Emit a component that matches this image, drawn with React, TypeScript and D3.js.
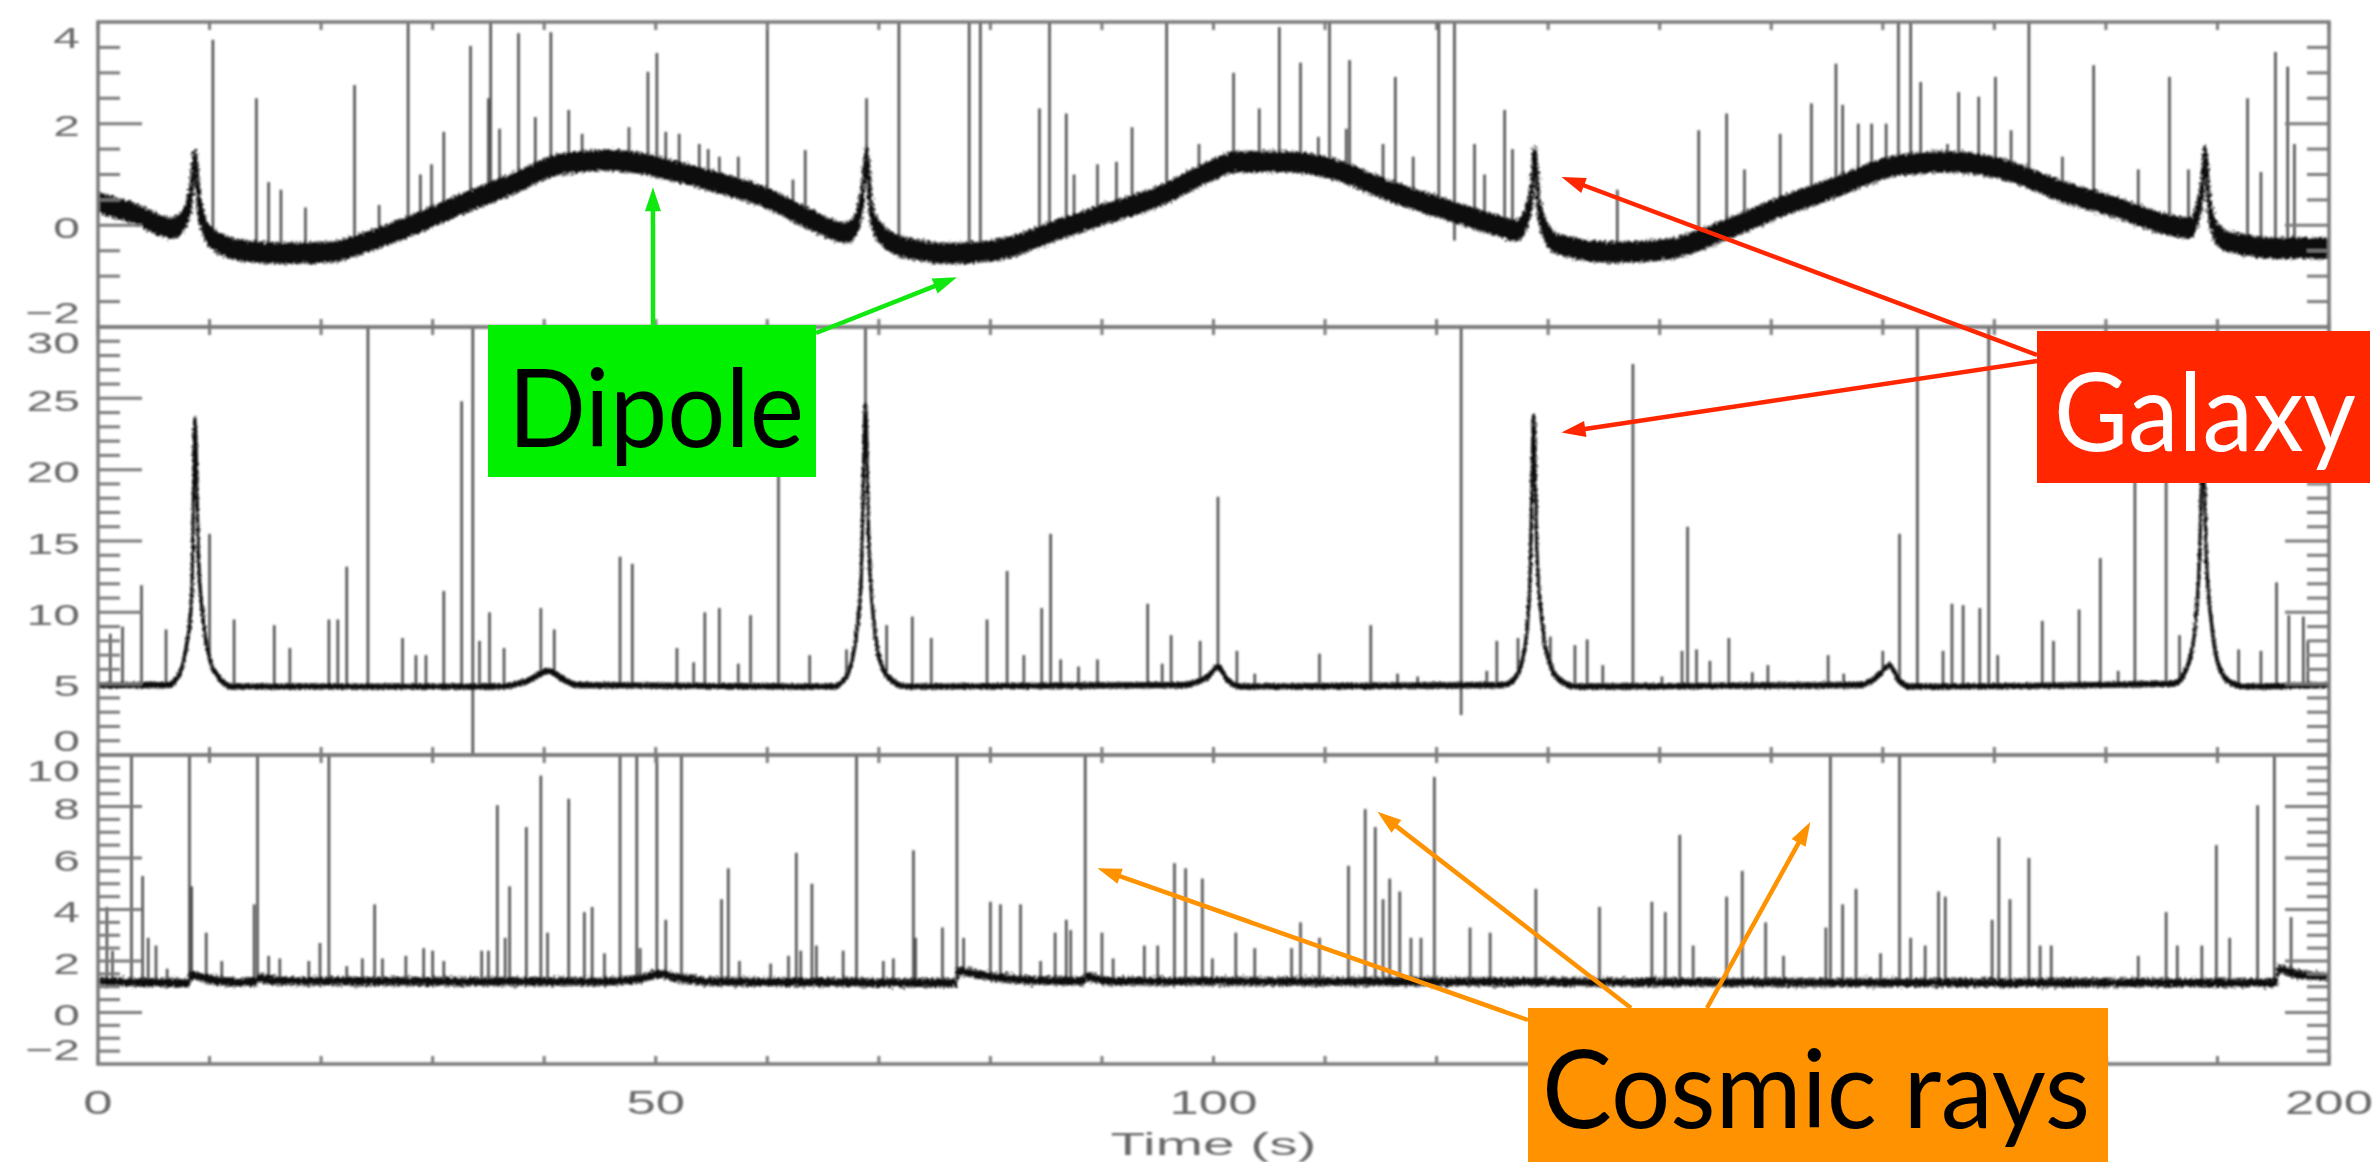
import React from 'react';
import * as d3 from 'd3';

const WIDTH = 2377;
const HEIGHT = 1162;

// ---- time axis ----
const timeDomain: [number, number] = [0, 200];
const timeTicks = d3.range(0, 201, 10);
const timeLabels = [0, 50, 100, 200];

// ---- channel 1: dipole-dominated detector (baseline key points and glitches) ----
const ch1Domain: [number, number] = [-2, 4];
const ch1Labels = [-2, 0, 2, 4];
const ch1Baseline: [number, number][] = [
  [0, 0.45], [3, 0.25], [6.7, -0.05], [7.7, 0.12], [8.3, 0.55], [8.7, 1.3], [9.1, 0.35], [9.8, -0.15],
  [10.6, -0.32], [13, -0.5], [17, -0.55], [21, -0.52], [23.2, -0.39], [27.8, -0.03], [32.4, 0.4],
  [36.9, 0.79], [41.5, 1.2], [46.1, 1.28], [50.7, 1.12], [55.2, 0.86], [59.8, 0.55], [64, 0.1],
  [67.1, -0.15], [68.0, 0.05], [68.5, 0.55], [68.9, 1.35], [69.3, 0.3], [70.1, -0.15], [72.2, -0.43],
  [76.7, -0.55], [81.3, -0.45], [85.9, -0.1], [90.5, 0.24], [95, 0.56], [99.6, 1.05], [102, 1.25],
  [106.5, 1.25], [111, 1.09], [115.6, 0.69], [120.2, 0.36], [124.8, 0.04], [127.3, -0.1],
  [128.1, 0.2], [128.5, 0.6], [128.8, 1.35], [129.2, 0.3], [130.0, -0.2], [130.7, -0.35],
  [135.7, -0.53], [140.7, -0.47], [145.8, -0.1], [150.8, 0.36], [155.8, 0.75], [160.7, 1.15],
  [165.8, 1.25], [170.8, 1.1], [175.8, 0.69], [180.8, 0.36], [185.8, 0.0], [187.5, -0.05],
  [188.3, 0.3], [188.6, 0.65], [188.9, 1.35], [189.3, 0.3], [190.1, -0.2], [190.9, -0.32],
  [195.9, -0.45], [200, -0.45],
];
const ch1Spikes: [number, number][] = [
  [10.3, 3.65], [14.2, 2.5], [15.3, 0.85], [16.4, 0.7], [18.6, 0.35], [23.0, 2.76], [25.2, 0.4],
  [27.8, 4.6], [28.9, 1.0], [29.9, 1.2], [31.0, 1.84], [33.4, 3.53], [35.0, 2.5], [35.2, 4.6],
  [36.0, 1.9], [37.7, 3.78], [39.2, 2.13], [40.6, 3.8], [42.2, 2.27], [43.4, 1.8], [47.6, 1.93],
  [49.3, 3.02], [50.1, 3.39], [50.9, 1.84], [52.1, 1.8], [53.9, 1.6], [54.7, 1.5], [55.7, 1.35],
  [57.4, 1.35], [60.0, 4.6], [62.3, 0.9], [63.4, 1.48], [68.9, 2.5], [71.8, 4.6], [78.1, 4.6],
  [79.1, 4.6], [84.4, 2.3], [85.3, 4.6], [86.8, 2.2], [87.5, 1.0], [89.6, 1.2], [91.3, 1.25],
  [92.7, 1.93], [95.8, 4.6], [98.7, 1.6], [101.8, 3.0], [104.1, 2.3], [105.9, 3.9], [107.8, 3.2],
  [109.4, 1.74], [110.4, 4.6], [111.9, 1.9], [112.2, 3.25], [115.2, 1.6], [116.3, 2.92],
  [117.9, 1.35], [120.2, 4.6], [121.6, 4.6], [123.4, 1.6], [124.3, 1.0], [126.1, 2.27],
  [126.8, 1.5], [136.2, 0.7], [143.5, 1.87], [146.0, 2.2], [147.6, 1.1], [150.8, 1.8],
  [153.6, 2.4], [155.8, 3.18], [156.4, 2.37], [157.8, 2.0], [159.0, 2.0], [160.3, 2.0],
  [161.4, 4.6], [162.5, 4.6], [163.4, 2.82], [165.8, 1.6], [166.8, 2.62], [168.6, 2.53],
  [170.1, 2.92], [171.5, 1.87], [173.1, 4.6], [176.1, 1.35], [178.9, 3.15], [182.9, 1.1],
  [185.7, 2.92], [187.4, 1.1], [192.7, 2.5], [193.9, 1.05], [195.2, 3.41], [196.3, 3.12],
  [196.9, 1.6],
];
const ch1Dips: [number, number][] = [[121.6, -0.3]];

// ---- channel 2: galaxy-dominated detector ----
const ch2Domain: [number, number] = [0, 30];
const ch2Labels = [0, 5, 10, 15, 20, 25, 30];
const ch2Baseline: [number, number][] = [
  [0, 4.9], [6.2, 4.9], [7.2, 5.5], [7.9, 7.5], [8.4, 11], [8.7, 23.5], [9.0, 14], [9.5, 9],
  [10.1, 6.5], [11.1, 5.2], [12, 4.8], [36, 4.8], [38.5, 5.2], [40.4, 5.9], [41.5, 5.4], [43, 4.9],
  [66.0, 4.8], [67.1, 5.5], [67.9, 8], [68.4, 12], [68.8, 24.5], [69.1, 15], [69.6, 9], [70.3, 6.2],
  [71.4, 5.1], [72.5, 4.8], [97, 4.9], [99.5, 5.5], [100.4, 6.2], [101.2, 5.3], [102.5, 4.8],
  [126.0, 4.9], [127.2, 5.6], [128.0, 8], [128.4, 13], [128.7, 23.7], [129.0, 14], [129.5, 9],
  [130.1, 6.5], [131.1, 5.2], [132.5, 4.8], [158, 4.9], [159.5, 5.5], [160.6, 6.3], [161.4, 5.3],
  [162.5, 4.8], [186.1, 5.0], [187.2, 6], [188.0, 9], [188.4, 14], [188.7, 22], [189.0, 14],
  [189.5, 9], [190.1, 6.3], [191.1, 5.1], [192.5, 4.8], [200, 4.9],
];
const ch2Spikes: [number, number][] = [
  [1.1, 8.5], [2.2, 9.0], [3.9, 11.9], [6.1, 8.8], [10.0, 15.5], [12.2, 9.5], [15.8, 9.1],
  [17.2, 7.5], [20.7, 9.5], [21.5, 9.5], [22.3, 13.2], [24.2, 35], [27.3, 8.2], [28.5, 7.0],
  [29.4, 7.0], [31.0, 11.5], [32.6, 24.8], [33.6, 35], [34.2, 8.0], [35.1, 10.0], [36.4, 7.5],
  [39.7, 10.3], [40.9, 8.8], [46.8, 13.9], [47.9, 13.4], [51.9, 7.5], [53.4, 6.5], [54.4, 10.0],
  [55.7, 10.3], [57.4, 6.4], [58.5, 9.8], [61.0, 26], [63.8, 7.0], [67.1, 7.4], [68.8, 35],
  [70.7, 9.1], [73.0, 9.7], [74.7, 8.2], [79.7, 9.5], [81.5, 12.9], [83.0, 7.0], [84.6, 10.3],
  [85.4, 15.5], [86.3, 6.7], [87.9, 6.2], [89.6, 6.7], [94.1, 10.6], [95.4, 6.4], [96.2, 8.4],
  [98.8, 8.0], [100.4, 18.1], [102.1, 7.3], [103.7, 5.7], [109.5, 7.1], [114.1, 9.1],
  [116.5, 5.7], [118.3, 5.5], [122.2, 35], [124.5, 5.9], [125.4, 8.0], [127.3, 8.2],
  [130.2, 8.3], [132.4, 7.7], [133.5, 8.1], [134.9, 6.3], [137.6, 27.4], [140.2, 5.5],
  [142.0, 7.3], [142.5, 16], [143.3, 7.4], [144.5, 6.6], [146.2, 8.2], [148.3, 5.8], [149.7, 6.3],
  [155.1, 7.0], [156.5, 5.7], [160.0, 7.3], [161.5, 15.5], [163.1, 35], [165.4, 7.3],
  [166.2, 10.6], [167.2, 10.5], [168.7, 10.3], [169.5, 35], [170.3, 7.0], [174.3, 9.4],
  [175.3, 8.0], [177.6, 10.2], [179.5, 13.8], [181.1, 5.9], [182.6, 27], [185.4, 27],
  [186.6, 8.4], [191.9, 7.4], [193.9, 7.3], [195.3, 12.1], [196.4, 9.8], [197.7, 9.7], [198.1, 8.0],
];
const ch2Dips: [number, number][] = [[33.6, -2], [122.2, 2.8]];

// ---- channel 3: cosmic-ray-dominated detector ----
const ch3Domain: [number, number] = [-2, 10];
const ch3Labels = [-2, 0, 2, 4, 6, 8, 10];
const ch3Baseline: [number, number][] = [
  [0, 1.2], [8.1, 1.15], [8.3, 1.45], [10, 1.3], [12, 1.18], [14.2, 1.2], [14.4, 1.35], [16, 1.22],
  [45, 1.2], [48.5, 1.3], [50.2, 1.5], [52, 1.35], [55, 1.2], [76.9, 1.15], [77.1, 1.6], [80, 1.4],
  [83.6, 1.25], [88.4, 1.22], [88.6, 1.4], [90.5, 1.22], [195.2, 1.15], [195.5, 1.7], [197, 1.5],
  [200, 1.4],
];
const ch3Spikes: [number, number][] = [
  [0.8, 4.1], [1.3, 2.4], [3.0, 12], [4.0, 5.3], [4.5, 2.9], [5.2, 2.6], [6.2, 1.7], [8.2, 12],
  [8.4, 4.9], [9.7, 3.1], [11.1, 2.0], [14.0, 4.2], [14.3, 12], [15.3, 2.2], [16.3, 2.1],
  [18.9, 2.0], [19.9, 2.7], [20.7, 12], [22.3, 1.8], [23.7, 2.1], [24.8, 4.2], [25.5, 2.1],
  [27.6, 2.2], [29.2, 2.5], [30.0, 2.4], [31.0, 2.0], [34.4, 2.4], [35.0, 2.4], [35.8, 8.05],
  [36.5, 2.9], [36.9, 4.9], [38.4, 7.2], [39.7, 9.2], [40.3, 3.1], [42.2, 8.3], [43.6, 3.9],
  [44.3, 4.1], [45.4, 2.3], [46.8, 12], [48.3, 12], [48.6, 2.5], [50.1, 12], [50.9, 3.6],
  [52.3, 12], [55.9, 4.4], [56.5, 5.6], [57.5, 2.0], [60.3, 1.9], [61.9, 2.2], [62.6, 6.2],
  [63.0, 2.4], [64.0, 5.0], [64.4, 2.6], [66.8, 2.4], [68.0, 12], [70.4, 2.0], [71.3, 2.1],
  [73.1, 6.3], [73.3, 2.9], [75.7, 3.3], [77.0, 12], [77.6, 2.9], [80.0, 4.3], [80.9, 4.2],
  [82.7, 4.2], [84.5, 2.0], [85.8, 3.1], [86.8, 3.6], [87.2, 3.2], [88.5, 12], [90.0, 3.1],
  [91.0, 2.1], [93.8, 2.6], [95.0, 2.6], [96.5, 5.8], [97.5, 5.6], [99.0, 5.2], [99.9, 2.1],
  [102.0, 3.1], [103.7, 2.5], [107.0, 2.5], [107.8, 3.5], [109.5, 2.9], [112.1, 5.7],
  [113.6, 7.9], [114.5, 7.2], [115.2, 4.4], [115.8, 5.2], [116.7, 4.7], [117.7, 2.9],
  [118.6, 2.9], [119.8, 9.15], [123.0, 3.3], [124.8, 3.1], [128.9, 4.8], [134.6, 4.1],
  [139.3, 4.3], [140.5, 3.9], [141.8, 6.9], [143.0, 2.6], [146.0, 4.5], [147.4, 5.5],
  [149.5, 3.5], [151.1, 2.2], [154.9, 3.3], [155.3, 12], [156.4, 4.2], [157.6, 4.8],
  [159.8, 2.3], [161.5, 12], [162.5, 2.9], [163.8, 2.6], [165.0, 4.7], [165.6, 4.5],
  [169.8, 3.6], [170.4, 6.8], [171.4, 4.4], [173.1, 6.0], [174.1, 2.6], [175.1, 2.6],
  [182.9, 2.2], [185.4, 3.9], [186.4, 2.6], [188.6, 2.6], [189.9, 6.5], [191.1, 2.9],
  [193.6, 8.05], [195.1, 12], [196.6, 3.7],
];
const ch3Dips: [number, number][] = [];

// ---- callouts (box layout in page pixels, arrow tips in data coordinates) ----
type Arrow = { from: [number, number]; panel: number; t: number; v: number };
type Callout = {
  text: string; fill: string; ink: string; stroke: string;
  box: [number, number, number, number]; textX: number; baseline: number; textW: number;
  arrows: Arrow[];
};
const callouts: Callout[] = [
  {
    text: 'Dipole', fill: '#00F000', ink: '#000', stroke: '#10E810',
    box: [488, 325, 328, 152], textX: 508, baseline: 447, textW: 296,
    arrows: [
      { from: [653, 325], panel: 0, t: 49.75, v: 0.75 },
      { from: [816, 333], panel: 0, t: 77.0, v: -1.02 },
    ],
  },
  {
    text: 'Galaxy', fill: '#FF2600', ink: '#fff', stroke: '#FF2600',
    box: [2037, 331, 333, 152], textX: 2054, baseline: 451, textW: 302,
    arrows: [
      { from: [2037, 355], panel: 0, t: 131.2, v: 0.95 },
      { from: [2037, 361], panel: 1, t: 131.2, v: 22.6 },
    ],
  },
  {
    text: 'Cosmic rays', fill: '#FF9200', ink: '#000', stroke: '#FF9200',
    box: [1528, 1008, 580, 154], textX: 1542, baseline: 1128, textW: 548,
    arrows: [
      { from: [1528, 1020], panel: 2, t: 89.6, v: 5.6 },
      { from: [1631, 1008], panel: 2, t: 114.7, v: 7.8 },
      { from: [1707, 1008], panel: 2, t: 153.5, v: 7.4 },
    ],
  },
];

const LABEL_FONT = '"Liberation Sans", Arial, Helvetica, sans-serif';
const NOTE_FONT = 'Lato, "Open Sans", sans-serif';

function arrowShape(x1: number, y1: number, x2: number, y2: number, head = 24, half = 8) {
  const dx = x2 - x1;
  const dy = y2 - y1;
  const len = Math.hypot(dx, dy);
  const ux = dx / len;
  const uy = dy / len;
  const bx = x2 - ux * head;
  const by = y2 - uy * head;
  const px = -uy * half;
  const py = ux * half;
  return {
    shaft: [x1, y1, bx + ux * 2, by + uy * 2],
    head: `${x2},${y2} ${bx + px},${by + py} ${bx - px},${by - py}`,
  };
}

export default function App() {
  const x = d3.scaleLinear().domain(timeDomain).range([98, 2329]);
  const left = x(timeDomain[0]);
  const right = x(timeDomain[1]);

  // half: vertical half-thickness of the noise band in pixels
  const panels = [
    { id: 'ch1', domain: ch1Domain, top: 22, bottom: 327, baseline: ch1Baseline, spikes: ch1Spikes, dips: ch1Dips, minor: 0.5, major: 2, labels: ch1Labels, half: 9, edge: 3, rough: 'rough' },
    { id: 'ch2', domain: ch2Domain, top: 327, bottom: 755, baseline: ch2Baseline, spikes: ch2Spikes, dips: ch2Dips, minor: 1, major: 5, labels: ch2Labels, half: 1.5, edge: 3.2, rough: 'roughFine' },
    { id: 'ch3', domain: ch3Domain, top: 755, bottom: 1064, baseline: ch3Baseline, spikes: ch3Spikes, dips: ch3Dips, minor: 0.5, major: 2, labels: ch3Labels, half: 3.2, edge: 2, rough: 'rough' },
  ].map((p) => ({ ...p, y: d3.scaleLinear().domain(p.domain).range([p.bottom, p.top]) }));

  return (
    <svg
      width={WIDTH}
      height={HEIGHT}
      viewBox={`0 0 ${WIDTH} ${HEIGHT}`}
      style={{ position: 'absolute', left: 0, top: 0, background: '#fff' }}
    >
      <defs>
        {panels.map((p) => (
          <clipPath id={`clip-${p.id}`} key={p.id}>
            <rect x={left} y={p.top} width={right - left} height={p.bottom - p.top} />
          </clipPath>
        ))}
        <filter id="soft" x="-2%" y="-2%" width="104%" height="104%">
          <feGaussianBlur stdDeviation="1.1" />
        </filter>
        <filter id="rough" x="-2%" y="-20%" width="104%" height="140%">
          <feTurbulence type="fractalNoise" baseFrequency="0.9 0.35" numOctaves={2} seed={7} result="grain" />
          <feDisplacementMap in="SourceGraphic" in2="grain" scale={9} xChannelSelector="R" yChannelSelector="G" />
        </filter>
        <filter id="roughFine" x="-2%" y="-20%" width="104%" height="140%">
          <feTurbulence type="fractalNoise" baseFrequency="0.9 0.35" numOctaves={2} seed={3} result="grain" />
          <feDisplacementMap in="SourceGraphic" in2="grain" scale={4} xChannelSelector="R" yChannelSelector="G" />
        </filter>
      </defs>
      <rect x={0} y={0} width={WIDTH} height={HEIGHT} fill="#fff" />

      <g filter="url(#soft)">
        {panels.map((p) => {
          const y = p.y;
          const baseAt = d3
            .scaleLinear()
            .domain(p.baseline.map((d) => d[0]))
            .range(p.baseline.map((d) => d[1]))
            .clamp(true);
          const band = d3
            .area<[number, number]>()
            .x((d) => x(d[0]))
            .y0((d) => y(d[1]) + p.half)
            .y1((d) => y(d[1]) - p.half)
            .curve(d3.curveMonotoneX);
          const ticks = d3.range(p.domain[0], p.domain[1] + 1e-9, p.minor).filter(
            (v) => v > p.domain[0] + 1e-9 && v < p.domain[1] - 1e-9,
          );
          const isMajor = (v: number) => Math.abs(v / p.major - Math.round(v / p.major)) < 1e-6;
          return (
            <g key={p.id}>
              <g clipPath={`url(#clip-${p.id})`}>
                {p.spikes.map(([t, v], i) => (
                  <line
                    key={`s${i}`}
                    x1={x(t)}
                    x2={x(t)}
                    y1={y(baseAt(t))}
                    y2={y(v)}
                    stroke="#505050"
                    strokeWidth={2.6}
                  />
                ))}
                {p.dips.map(([t, v], i) => (
                  <line
                    key={`d${i}`}
                    x1={x(t)}
                    x2={x(t)}
                    y1={y(baseAt(t))}
                    y2={y(v)}
                    stroke="#505050"
                    strokeWidth={2.6}
                  />
                ))}
                <path
                  d={band(p.baseline) ?? ''}
                  fill="#0a0a0a"
                  stroke="#0a0a0a"
                  strokeWidth={p.edge}
                  strokeLinejoin="round"
                  filter={`url(#${p.rough})`}
                />
              </g>
              {/* time ticks on the upper and lower frame of each panel */}
              {timeTicks.map((t) => (
                <g key={`xt${t}`} stroke="#7a7a7a" strokeWidth={3}>
                  <line x1={x(t)} x2={x(t)} y1={p.top} y2={p.top + 8} />
                  <line x1={x(t)} x2={x(t)} y1={p.bottom} y2={p.bottom - 8} />
                </g>
              ))}
              {/* value ticks, mirrored on both sides */}
              {ticks.map((v) => {
                const len = isMajor(v) ? 44 : 22;
                return (
                  <g key={`yt${v}`} stroke="#7a7a7a" strokeWidth={3}>
                    <line x1={left} x2={left + len} y1={y(v)} y2={y(v)} />
                    <line x1={right} x2={right - len} y1={y(v)} y2={y(v)} />
                  </g>
                );
              })}
              <rect
                x={left}
                y={p.top}
                width={right - left}
                height={p.bottom - p.top}
                fill="none"
                stroke="#7a7a7a"
                strokeWidth={3.5}
              />
              {p.labels.map((v, i) => {
                const shift = i === p.labels.length - 1 ? 15 : i === 0 ? -15 : 2;
                return (
                  <text
                    key={`yl${v}`}
                    transform={`translate(80, ${y(v) + shift}) scale(1.6, 1)`}
                    textAnchor="end"
                    dy="0.36em"
                    fontFamily={LABEL_FONT}
                    fontSize={30}
                    fill="#6a6a6a"
                  >
                    {v < 0 ? `\u2212${Math.abs(v)}` : v}
                  </text>
                );
              })}
            </g>
          );
        })}
        {timeLabels.map((t) => (
          <text
            key={`xl${t}`}
            transform={`translate(${x(t)}, 1114) scale(1.55, 1)`}
            textAnchor="middle"
            fontFamily={LABEL_FONT}
            fontSize={34}
            fill="#6a6a6a"
          >
            {t}
          </text>
        ))}
        <text
          x={x(100) - 103}
          y={1155}
          textLength={206}
          lengthAdjust="spacingAndGlyphs"
          fontFamily={LABEL_FONT}
          fontSize={31}
          fill="#6a6a6a"
        >
          Time (s)
        </text>
      </g>

      {/* annotation callouts */}
      {callouts.map((c) => (
        <g key={c.text}>
          {c.arrows.map((a, i) => {
            const p = panels[a.panel];
            const s = arrowShape(a.from[0], a.from[1], x(a.t), p.y(a.v));
            return (
              <g key={i}>
                <line
                  x1={s.shaft[0]}
                  y1={s.shaft[1]}
                  x2={s.shaft[2]}
                  y2={s.shaft[3]}
                  stroke={c.stroke}
                  strokeWidth={4.5}
                />
                <polygon points={s.head} fill={c.stroke} />
              </g>
            );
          })}
          <rect x={c.box[0]} y={c.box[1]} width={c.box[2]} height={c.box[3]} fill={c.fill} />
          <text
            x={c.textX}
            y={c.baseline}
            textLength={c.textW}
            lengthAdjust="spacingAndGlyphs"
            fontFamily={NOTE_FONT}
            fontSize={108}
            fill={c.ink}
          >
            {c.text}
          </text>
        </g>
      ))}
    </svg>
  );
}
